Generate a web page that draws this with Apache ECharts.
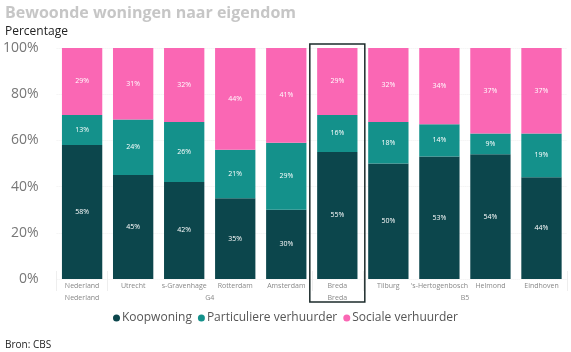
<!DOCTYPE html>
<html>
<head>
<meta charset="utf-8">
<script src="https://cdn.jsdelivr.net/npm/echarts@6/dist/echarts.min.js"></script>
<style>
  html, body { margin: 0; padding: 0; background: #fff; }
  #main { width: 571px; height: 352px; }
</style>
</head>
<body>
<div id="main"></div>
<script>
// categories and values
const cities = ['Nederland', 'Utrecht', 's-Gravenhage', 'Rotterdam', 'Amsterdam', 'Breda', 'Tilburg', "'s-Hertogenbosch", 'Helmond', 'Eindhoven']
const koop = [58, 45, 42, 35, 30, 55, 50, 53, 54, 44]
const particulier = [13, 24, 26, 21, 29, 16, 18, 14, 9, 19]
const sociaal = [29, 31, 32, 44, 41, 29, 32, 34, 37, 37]
const yTicks = [0, 20, 40, 60, 80, 100]

// groups under the city names: [label, first index, last index]
const groups = [['Nederland', 0, 0], ['G4', 1, 4], ['Breda', 5, 5], ['B5', 6, 9]]

// second axis in half-category steps, so group labels can sit between bars
const halfSlots = []
for (let i = 0; i <= cities.length * 2; i++) halfSlots.push('')
const groupTicks = new Set()
groups.forEach(([name, a, b]) => {
  halfSlots[a + b + 1] = name
  groupTicks.add(a * 2)
  groupTicks.add((b + 1) * 2)
})

const FONT = '"Open Sans", "Noto Sans", sans-serif'
const colors = ['#0c464c', '#14918b', '#fa67b4']

const chart = echarts.init(document.getElementById('main'))

const labelStyle = {
  show: true,
  position: 'inside',
  color: '#fff',
  fontSize: 7,
  fontFamily: FONT,
  formatter: '{c}%'
}

function makeSeries(name, data) {
  return {
    name: name,
    type: 'bar',
    stack: 'total',
    data: data,
    barCategoryGap: '21%',
    label: labelStyle
  }
}

chart.setOption({
  animation: false,
  color: colors,
  title: [{
    text: 'Bewoonde woningen naar eigendom',
    left: 0, top: 0,
    textStyle: { color: '#c6c6c6', fontSize: 16, fontWeight: 'bold', fontFamily: FONT }
  }, {
    text: 'Percentage',
    left: 0, top: 21,
    textStyle: { color: '#222', fontSize: 12, fontWeight: 'normal', fontFamily: FONT }
  }, {
    text: 'Bron: CBS',
    left: 0, top: 335,
    textStyle: { color: '#222', fontSize: 10, fontWeight: 'normal', fontFamily: FONT }
  }],
  legend: {
    top: 307,
    left: 'center',
    icon: 'circle',
    itemWidth: 7,
    itemHeight: 7,
    itemGap: 6,
    textStyle: { color: '#555', fontSize: 12, fontFamily: FONT, padding: [0, 0, 0, -3] },
    data: ['Koopwoning', 'Particuliere verhuurder', 'Sociale verhuurder']
  },
  grid: { left: 56, right: 4, top: 48, bottom: 73 },
  xAxis: [{
    type: 'category',
    data: cities,
    axisLine: { show: false },
    axisTick: { show: false },
    axisLabel: { color: '#888', fontSize: 7, fontFamily: FONT, margin: 3, interval: 0 }
  }, {
    type: 'category',
    position: 'bottom',
    offset: 12,
    boundaryGap: false,
    data: halfSlots,
    axisLine: { show: false },
    axisTick: {
      show: true,
      length: 20,
      inside: true,
      interval: (i) => groupTicks.has(i),
      lineStyle: { color: '#eee' }
    },
    axisLabel: { color: '#888', fontSize: 7, fontFamily: FONT, margin: 3, interval: 0 }
  }],
  yAxis: {
    type: 'value',
    min: yTicks[0],
    max: yTicks[yTicks.length - 1],
    interval: yTicks[1] - yTicks[0],
    axisLabel: { formatter: '{value}%', color: '#777', fontSize: 14, fontFamily: FONT, margin: 18 },
    axisLine: { show: false },
    axisTick: { show: false },
    splitLine: { lineStyle: { color: '#f0f0f0', type: 'dotted' } }
  },
  series: [
    makeSeries('Koopwoning', koop),
    makeSeries('Particuliere verhuurder', particulier),
    makeSeries('Sociale verhuurder', sociaal)
  ]
})

// highlight frame around Breda, placed via the axis scale
const cx = chart.convertToPixel({ xAxisIndex: 0 }, 'Breda')
const yTop = chart.convertToPixel({ yAxisIndex: 0 }, 100)
const yBottom = chart.convertToPixel({ yAxisIndex: 0 }, 0)
const band = 51
chart.setOption({
  graphic: [{
    type: 'rect',
    shape: { x: cx - band / 2 - 2, y: yTop - 4, width: band + 4, height: yBottom - yTop + 27 },
    style: { fill: 'none', stroke: '#1c2b2b', lineWidth: 1.5 },
    z: 100
  }]
})
</script>
</body>
</html>
